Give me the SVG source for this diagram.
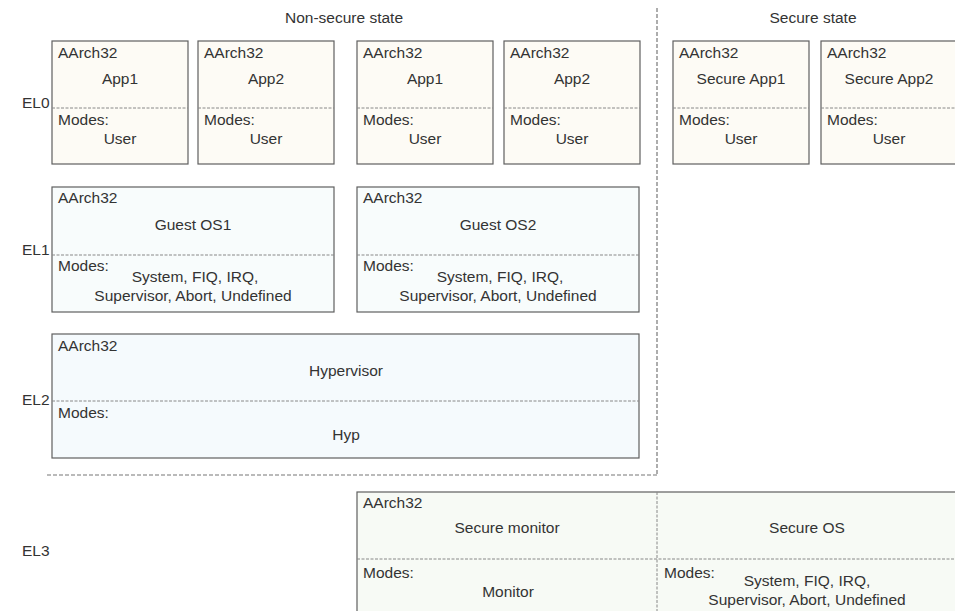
<svg xmlns="http://www.w3.org/2000/svg" width="955" height="611" viewBox="0 0 955 611">
  <style>
    text { font-family: "Liberation Sans", Arial, sans-serif; font-size: 15.5px; fill: #333; }
    .c { text-anchor: middle; }
    .box { stroke: #5f5f5f; stroke-width: 1.2; }
    .el0 { fill: #fdfbf5; }
    .el1 { fill: #f8fcfc; }
    .el2 { fill: #f5fafd; }
    .el3 { fill: #f7faf5; }
    .div { stroke: #888; stroke-width: 1; stroke-dasharray: 3 1.5; fill: none; }
    .sep { stroke: #777; stroke-width: 1.2; stroke-dasharray: 4 2; fill: none; }
  </style>

  <rect width="955" height="611" fill="#ffffff"/>

  <!-- state headings and exception level labels -->
  <text class="c" x="344" y="23">Non-secure state</text>
  <text class="c" x="813" y="23">Secure state</text>
  <text x="22" y="108">EL0</text>
  <text x="22" y="255">EL1</text>
  <text x="22" y="405">EL2</text>
  <text x="22" y="556">EL3</text>

  <!-- separators between the security states / EL3 -->
  <g id="separators">
    <path class="sep" d="M657 8 V475 M47 475 H657"/>
  </g>

  <!-- EL0 applications -->
  <g id="ns-app1">
    <rect class="box el0" x="52" y="41" width="136" height="123"/>
    <line class="div" x1="52" y1="108" x2="188" y2="108"/>
    <text x="58" y="58">AArch32</text>
    <text class="c" x="120" y="84">App1</text>
    <text x="58" y="125">Modes:</text>
    <text class="c" x="120" y="144">User</text>
  </g>
  <g id="ns-app2">
    <rect class="box el0" x="198" y="41" width="136" height="123"/>
    <line class="div" x1="198" y1="108" x2="334" y2="108"/>
    <text x="204" y="58">AArch32</text>
    <text class="c" x="266" y="84">App2</text>
    <text x="204" y="125">Modes:</text>
    <text class="c" x="266" y="144">User</text>
  </g>
  <g id="ns-app3">
    <rect class="box el0" x="357" y="41" width="136" height="123"/>
    <line class="div" x1="357" y1="108" x2="493" y2="108"/>
    <text x="363" y="58">AArch32</text>
    <text class="c" x="425" y="84">App1</text>
    <text x="363" y="125">Modes:</text>
    <text class="c" x="425" y="144">User</text>
  </g>
  <g id="ns-app4">
    <rect class="box el0" x="504" y="41" width="136" height="123"/>
    <line class="div" x1="504" y1="108" x2="640" y2="108"/>
    <text x="510" y="58">AArch32</text>
    <text class="c" x="572" y="84">App2</text>
    <text x="510" y="125">Modes:</text>
    <text class="c" x="572" y="144">User</text>
  </g>
  <g id="s-app1">
    <rect class="box el0" x="673" y="41" width="136" height="123"/>
    <line class="div" x1="673" y1="108" x2="809" y2="108"/>
    <text x="679" y="58">AArch32</text>
    <text class="c" x="741" y="84">Secure App1</text>
    <text x="679" y="125">Modes:</text>
    <text class="c" x="741" y="144">User</text>
  </g>
  <g id="s-app2">
    <rect class="box el0" x="821" y="41" width="136" height="123"/>
    <line class="div" x1="821" y1="108" x2="957" y2="108"/>
    <text x="827" y="58">AArch32</text>
    <text class="c" x="889" y="84">Secure App2</text>
    <text x="827" y="125">Modes:</text>
    <text class="c" x="889" y="144">User</text>
  </g>

  <!-- EL1 guest operating systems -->
  <g id="guest-os1">
    <rect class="box el1" x="52" y="187" width="282" height="125"/>
    <line class="div" x1="52" y1="255" x2="334" y2="255"/>
    <text x="58" y="203">AArch32</text>
    <text class="c" x="193" y="230">Guest OS1</text>
    <text x="58" y="271">Modes:</text>
    <text class="c" x="195" y="282">System, FIQ, IRQ,</text>
    <text class="c" x="193" y="301">Supervisor, Abort, Undefined</text>
  </g>
  <g id="guest-os2">
    <rect class="box el1" x="357" y="187" width="282" height="125"/>
    <line class="div" x1="357" y1="255" x2="639" y2="255"/>
    <text x="363" y="271">Modes:</text>
    <text x="363" y="203">AArch32</text>
    <text class="c" x="498" y="230">Guest OS2</text>
    <text class="c" x="500" y="282">System, FIQ, IRQ,</text>
    <text class="c" x="498" y="301">Supervisor, Abort, Undefined</text>
  </g>

  <!-- EL2 hypervisor -->
  <g id="hypervisor">
    <rect class="box el2" x="52" y="334" width="587" height="124"/>
    <line class="div" x1="52" y1="401" x2="639" y2="401"/>
    <text x="58" y="351">AArch32</text>
    <text class="c" x="346" y="376">Hypervisor</text>
    <text x="58" y="418">Modes:</text>
    <text class="c" x="346" y="440">Hyp</text>
  </g>

  <!-- EL3 secure monitor and secure OS -->
  <g id="el3">
    <rect class="box el3" x="357" y="492" width="610" height="130"/>
    <line class="div" x1="357" y1="559" x2="957" y2="559"/>
    <line class="div" x1="657" y1="492" x2="657" y2="611"/>
    <text x="363" y="508">AArch32</text>
    <text class="c" x="507" y="533">Secure monitor</text>
    <text x="363" y="578">Modes:</text>
    <text class="c" x="508" y="597">Monitor</text>
    <text class="c" x="807" y="533">Secure OS</text>
    <text x="664" y="578">Modes:</text>
    <text class="c" x="807" y="586">System, FIQ, IRQ,</text>
    <text class="c" x="807" y="605">Supervisor, Abort, Undefined</text>
  </g>
</svg>
